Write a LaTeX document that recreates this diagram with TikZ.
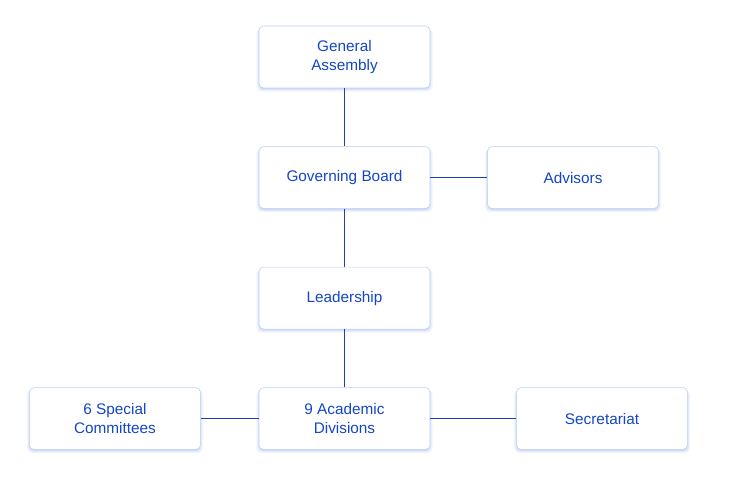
\documentclass[tikz,border=0pt]{standalone}
\usepackage{fontspec}
\setmainfont{Liberation Sans}
\usepackage{xcolor}
\definecolor{boxtext}{HTML}{1446C6}
\definecolor{boxline}{HTML}{BCCDF5}
\definecolor{linkline}{HTML}{1A3FB8}
\definecolor{shadowblue}{HTML}{9DB4F0}
\usetikzlibrary{positioning,shadows}

\begin{document}
\begin{tikzpicture}
        [ soft shadow/.style = {general shadow={shadow xshift=0pt,shadow yshift=-2pt,
                                  shadow scale=1.03,fill=shadowblue,opacity=0.12},
                                general shadow={shadow xshift=0pt,shadow yshift=-1.5pt,
                                  shadow scale=1.015,fill=shadowblue,opacity=0.2},
                                general shadow={shadow xshift=0pt,shadow yshift=-1pt,
                                  fill=shadowblue,opacity=0.3}},
          every node/.style = {draw=boxline,fill=white,rounded corners=3.5pt,
                               minimum width=128.25pt,minimum height=46.5pt,
                               align=center,text=boxtext,
                               font=\fontsize{11.5}{14}\selectfont,soft shadow},
          link/.style = {draw=linkline,line width=0.8pt},
          node distance = 43.5pt and 42.75pt]
        \useasboundingbox (-258.375pt,42.75pt) rectangle (299.625pt,-314.25pt);
        \node (assembly) {General\\Assembly};
        \node (board) [below=of assembly] {Governing Board};
        \node (advisors) [right=of board] {Advisors};
        \node (leadership) [below=of board] {Leadership};
        \node (divisions) [below=of leadership] {9 Academic\\Divisions};
        \node (committees) [left=43.5pt of divisions] {6 Special\\Committees};
        \node (secretariat) [right=64.5pt of divisions] {Secretariat};
        % connectors
        \draw[link] (assembly) -- (board);
        \draw[link] (board) -- (advisors);
        \draw[link] (board) -- (leadership);
        \draw[link] (leadership) -- (divisions);
        \draw[link] (committees) -- (divisions);
        \draw[link] (divisions) -- (secretariat);
    \end{tikzpicture}
\end{document}
